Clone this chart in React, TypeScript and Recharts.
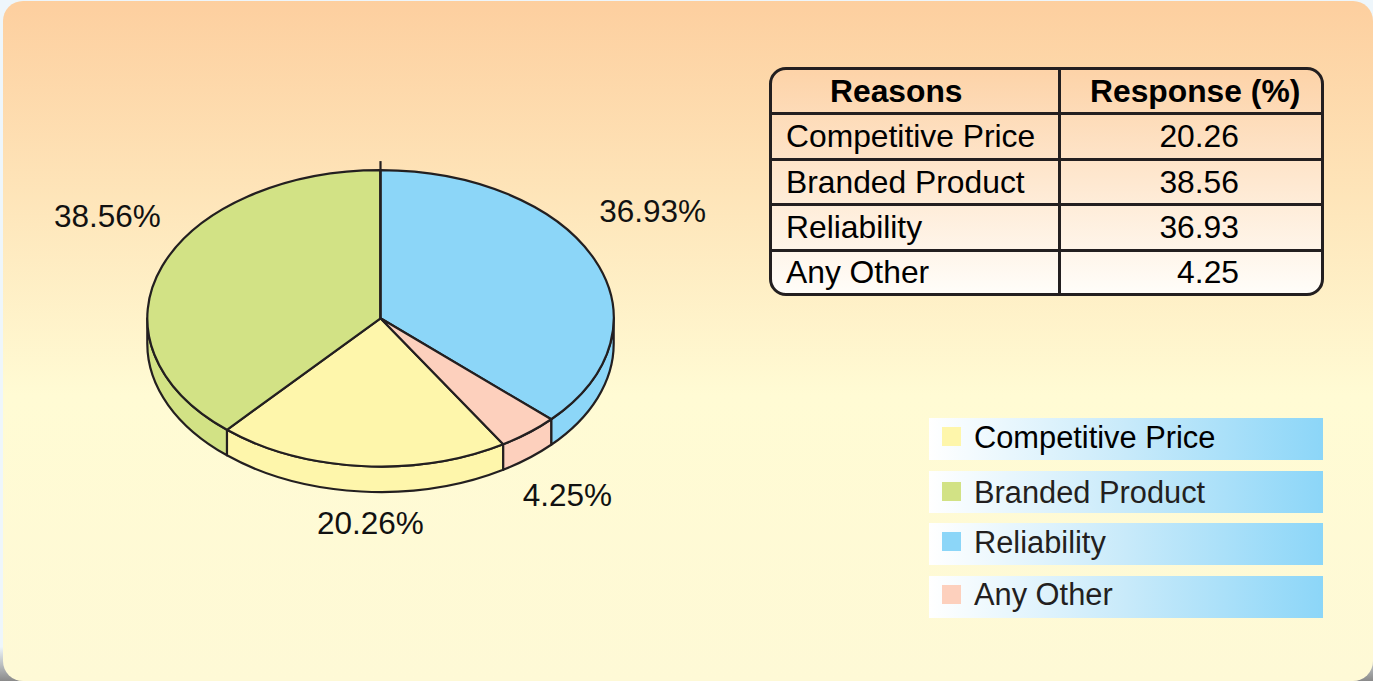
import React from "react";
import { PieChart, Pie, Cell, Legend } from "recharts";

const reasons = ["Competitive Price", "Branded Product", "Reliability", "Any Other"];
const responses = [20.26, 38.56, 36.93, 4.25];
const responseText = ["20.26", "38.56", "36.93", "4.25"];
const tableHeaders = ["Reasons", "Response (%)"];

const sliceColors = ["#fef6ab", "#d2e285", "#8cd6f8", "#fdd0bd"];
const labelOffsets = [
  { dx: 11, dy: 42 },
  { dx: -33, dy: -45 },
  { dx: 37, dy: -42 },
  { dx: 24, dy: 51 },
];

const INK = "#231f20";
const FONT = "Arial, 'Liberation Sans', sans-serif";
const CX = 380.5;
const CY = 318.3;
const RX = 233.2;
const SQUASH = 148.2 / 233.2;
const DEPTH = 25.5;
const START = 90 - ((36.93 + 4.25) * 360) / 100;

const rowStops = [0, 53, 105, 158];
const rowTextNudge = [1, 3, 1, 0];
const rowSwatchNudge = [0, 2, 0, 0];

const data = reasons.map((name, i) => ({ name, value: responses[i] }));

function point(cx: number, cy: number, rx: number, ry: number, deg: number) {
  const r = (deg * Math.PI) / 180;
  return { x: cx + rx * Math.cos(r), y: cy - ry * Math.sin(r) };
}

function EllipticSlice(props: any) {
  const { cx, cy, outerRadius, startAngle, endAngle, fill } = props;
  const rx = outerRadius;
  const ry = outerRadius * SQUASH;
  const hi = Math.max(startAngle, endAngle);
  const lo = Math.min(startAngle, endAngle);
  const a = point(cx, cy, rx, ry, hi);
  const b = point(cx, cy, rx, ry, lo);
  const large = hi - lo > 180 ? 1 : 0;
  const sides: string[] = [];
  for (let k = -1080; k <= 360; k += 360) {
    const h = Math.min(hi, k);
    const l = Math.max(lo, k - 180);
    if (h > l) {
      const p = point(cx, cy, rx, ry, h);
      const q = point(cx, cy, rx, ry, l);
      sides.push(
        `M${p.x},${p.y} A${rx},${ry} 0 0 1 ${q.x},${q.y} L${q.x},${q.y + DEPTH} A${rx},${ry} 0 0 0 ${p.x},${p.y + DEPTH} Z`
      );
    }
  }
  const isTop = Math.abs((((hi % 360) + 360) % 360) - 90) < 0.01;
  return (
    <g>
      {sides.map((d) => (
        <path key={d} d={d} fill={fill} stroke={INK} strokeWidth={2.2} strokeLinejoin="round" />
      ))}
      <path
        d={`M${cx},${cy} L${a.x},${a.y} A${rx},${ry} 0 ${large} 1 ${b.x},${b.y} Z`}
        fill={fill}
        stroke={INK}
        strokeWidth={2.2}
        strokeLinejoin="round"
      />
      {isTop && <line x1={cx} y1={cy} x2={cx} y2={cy - ry - 9} stroke={INK} strokeWidth={2.2} />}
    </g>
  );
}

function SliceLabel(props: any) {
  const { cx, cy, outerRadius, midAngle, index } = props;
  const p = point(cx, cy, outerRadius * 1.1, outerRadius * SQUASH * 1.1, midAngle);
  const o = labelOffsets[index];
  return (
    <text
      x={p.x + o.dx}
      y={p.y + o.dy}
      textAnchor="middle"
      dominantBaseline="central"
      fontFamily={FONT}
      fontSize={31.5}
      fill="#111"
    >
      {responseText[index]}%
    </text>
  );
}

function LegendRows(props: any) {
  const items = props.payload || [];
  return (
    <div style={{ position: "relative", width: 394, height: 200 }}>
      {items.map((item: any, i: number) => (
        <div
          key={item.value}
          style={{
            position: "absolute",
            left: 0,
            top: rowStops[i],
            width: 394,
            height: 42,
            background: "linear-gradient(90deg,#ffffff 0%,#c8eafa 50%,#8cd6f8 100%)",
          }}
        >
          <div
            style={{
              position: "absolute",
              left: 13,
              top: 9 + rowSwatchNudge[i],
              width: 19,
              height: 19,
              background: sliceColors[i],
            }}
          />
          <div
            style={{
              position: "absolute",
              left: 45,
              top: rowTextNudge[i],
              height: 37,
              lineHeight: "37px",
              fontFamily: FONT,
              fontSize: 30.8,
              color: i === 0 ? "#000" : INK,
              whiteSpace: "nowrap",
            }}
          >
            {item.value}
          </div>
        </div>
      ))}
    </div>
  );
}

function ReasonTable() {
  const rowH = [42, 46, 45, 46, 44];
  const line = `3px solid ${INK}`;
  const cell: React.CSSProperties = { padding: 0, fontFamily: FONT, fontSize: 31.8, color: "#000", whiteSpace: "nowrap" };
  return (
    <div
      style={{
        position: "absolute",
        left: 769,
        top: 67,
        width: 555,
        height: 229,
        boxSizing: "border-box",
        border: line,
        borderRadius: 17,
        overflow: "hidden",
        background: "linear-gradient(180deg,#fdd3a8 0%,#fffdf9 100%)",
      }}
    >
      <table style={{ borderCollapse: "separate", borderSpacing: 0, width: 549, height: 223, tableLayout: "fixed" }}>
        <colgroup>
          <col style={{ width: 289 }} />
          <col style={{ width: 260 }} />
        </colgroup>
        <tbody>
          <tr style={{ height: rowH[0] }}>
            <td style={{ ...cell, fontWeight: 700, paddingLeft: 58, borderRight: line, boxSizing: "border-box" }}>{tableHeaders[0]}</td>
            <td style={{ ...cell, fontWeight: 700, paddingLeft: 29 }}>{tableHeaders[1]}</td>
          </tr>
          {reasons.map((r, i) => (
            <tr key={r} style={{ height: rowH[i + 1] }}>
              <td style={{ ...cell, paddingLeft: 14, borderTop: line, borderRight: line }}>{r}</td>
              <td style={{ ...cell, textAlign: "right", paddingRight: 82, borderTop: line }}>{responseText[i]}</td>
            </tr>
          ))}
        </tbody>
      </table>
    </div>
  );
}

export default function App() {
  return (
    <div
      style={{
        position: "absolute",
        left: 0,
        top: 0,
        width: 1373,
        height: 681,
        background: "linear-gradient(180deg,#eef6fb 0%,#eef6fb 95%,#8a8a8a 100%)",
        overflow: "hidden",
      }}
    >
      <div
        style={{
          position: "absolute",
          left: 3,
          top: 1,
          width: 1370,
          height: 680,
          borderRadius: 20,
          background: "linear-gradient(180deg,#fdcf9f 0%,#fffbd4 58%,#fef9d6 100%)",
        }}
      />
      <div style={{ position: "absolute", left: 0, top: 0 }}>
        <PieChart width={1373} height={681} margin={{ top: 0, right: 0, bottom: 0, left: 0 }}>
          <Pie
            data={data}
            dataKey="value"
            nameKey="name"
            cx={CX}
            cy={CY}
            innerRadius={0}
            outerRadius={RX}
            startAngle={START}
            endAngle={START - 360}
            paddingAngle={0}
            stroke="none"
            isAnimationActive={false}
            shape={EllipticSlice}
            label={SliceLabel}
            labelLine={false}
          >
            {data.map((d, i) => (
              <Cell key={d.name} fill={sliceColors[i]} />
            ))}
          </Pie>
          <Legend
            content={LegendRows}
            itemSorter={null}
            wrapperStyle={{ position: "absolute", left: 929, top: 418, width: 394, bottom: "auto", right: "auto" }}
          />
        </PieChart>
      </div>
      <ReasonTable />
    </div>
  );
}
